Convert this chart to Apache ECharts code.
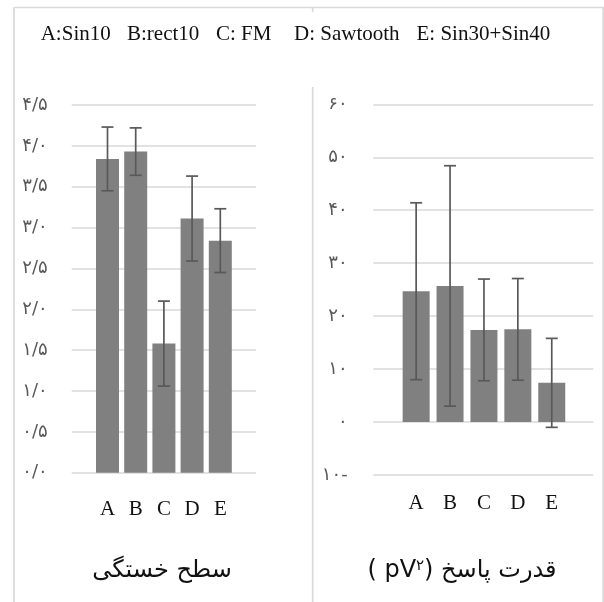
<!DOCTYPE html>
<html>
<head>
<meta charset="utf-8">
<script src="https://cdn.jsdelivr.net/npm/echarts@6/dist/echarts.min.js"></script>
<style>html,body{margin:0;padding:0;background:#fff}#c{width:604px;height:602px}</style>
</head>
<body>
<div id="c"></div>
<script>
// ---- data ----
const categories = ['A', 'B', 'C', 'D', 'E'];
const fatigueMean = [3.84, 3.93, 1.58, 3.11, 2.84];
const fatigueErr = [0.39, 0.29, 0.52, 0.52, 0.39];
const powerMean = [24.7, 25.7, 17.4, 17.5, 7.4];
const powerErr = [16.7, 22.7, 9.6, 9.6, 8.4];
const legendItems = ['A:Sin10', 'B:rect10', 'C: FM', 'D: Sawtooth', 'E: Sin30+Sin40'];
const titleLeft = 'سطح خستگی';
const titleRightUnit = ['( pV', '۲', ')'];
const titleRightText = 'قدرت پاسخ';

const faDigits = '۰۱۲۳۴۵۶۷۸۹';
function toFa(s) { return String(s).replace(/[0-9]/g, d => faDigits[+d]); }
function fmtLeft(v) { return toFa(v.toFixed(1)).replace('.', '/'); }
function fmtRight(v) { return v < 0 ? toFa(Math.abs(v)) + '-' : toFa(v); }

const GRID_COLOR = '#d9d9d9';
const BAR_COLOR = '#808080';
const ERR_COLOR = '#595959';

function errData(mean, err) { return mean.map((m, i) => [i, m - err[i], m + err[i]]); }
function renderErr(params, api) {
  const i = api.value(0);
  const lo = api.coord([i, api.value(1)]);
  const hi = api.coord([i, api.value(2)]);
  const x = lo[0], hw = 6;
  const st = { stroke: ERR_COLOR, lineWidth: 1.7 };
  return { type: 'group', children: [
    { type: 'line', shape: { x1: x, y1: hi[1], x2: x, y2: lo[1] }, style: st },
    { type: 'line', shape: { x1: x - hw, y1: hi[1], x2: x + hw, y2: hi[1] }, style: st },
    { type: 'line', shape: { x1: x - hw, y1: lo[1], x2: x + hw, y2: lo[1] }, style: st }
  ]};
}

const serif = 'Liberation Serif, Times New Roman, serif';
const fa = 'DejaVu Sans, sans-serif';

const legendX = [40.7, 127, 216, 294, 416.5];
const graphics = [];
legendItems.forEach((t, i) => graphics.push({ type: 'text', left: legendX[i], top: 23.5,
  style: { text: t, font: '21px ' + serif, fill: '#111' } }));
// borders
const ln = (x1, y1, x2, y2) => ({ type: 'line', silent: true, shape: { x1, y1, x2, y2 }, style: { stroke: GRID_COLOR, lineWidth: 1.7 } });
graphics.push(ln(14, 7.5, 14, 602), ln(14, 7.5, 604, 7.5), ln(603.2, 7.5, 603.2, 602),
  ln(312.7, 7.5, 312.7, 12), ln(312.7, 87, 312.7, 602));
// titles
graphics.push({ type: 'text', x: 162, y: 571, style: { text: titleLeft, font: '24px ' + fa, fill: '#111', align: 'center', verticalAlign: 'middle' } });
graphics.push({ type: 'text', x: 462, y: 571, style: {
  text: '{a|' + titleRightUnit[0] + '}{s|' + titleRightUnit[1] + '}{a|' + titleRightUnit[2] + '}{g| }{a|' + titleRightText + '}',
  align: 'center', verticalAlign: 'middle',
  rich: { a: { font: '24px ' + fa, fill: '#111' }, g: { font: '24px ' + fa, fill: '#111' },
          s: { font: '15px ' + fa, fill: '#111', verticalAlign: 'top', padding: [0, 0, 10, 0] } } } });

const chart = echarts.init(document.getElementById('c'), null, { renderer: 'canvas' });
chart.setOption({
  animation: false,
  backgroundColor: '#fff',
  grid: [
    { left: 71.7, top: 105, width: 184.3, height: 367.7 },
    { left: 93.4, top: 105, width: 141, height: 367.7 },
    { left: 373.3, top: 104.3, width: 220, height: 370.7 },
    { left: 399.2, top: 104.3, width: 169.5, height: 370.7 }
  ],
  xAxis: [
    { gridIndex: 0, type: 'category', data: categories, show: false },
    { gridIndex: 1, type: 'category', data: categories, axisLine: { show: false }, axisTick: { show: false },
      axisLabel: { margin: 26, fontSize: 21, fontFamily: serif, color: '#111' } },
    { gridIndex: 2, type: 'category', data: categories, show: false },
    { gridIndex: 3, type: 'category', data: categories, axisLine: { show: false }, axisTick: { show: false },
      axisLabel: { margin: 18.3, fontSize: 21, fontFamily: serif, color: '#111' } }
  ],
  yAxis: [
    { gridIndex: 0, type: 'value', min: 0, max: 4.5, interval: 0.5,
      axisLine: { show: false }, axisTick: { show: false },
      axisLabel: { margin: 24, fontSize: 18, fontFamily: fa, color: '#595959', formatter: fmtLeft },
      splitLine: { lineStyle: { color: GRID_COLOR, width: 1.7 } } },
    { gridIndex: 1, type: 'value', min: 0, max: 4.5, interval: 0.5, show: false, splitLine: { show: false } },
    { gridIndex: 2, type: 'value', min: -10, max: 60, interval: 10,
      axisLine: { show: false }, axisTick: { show: false },
      axisLabel: { margin: 25.6, fontSize: 18, fontFamily: fa, color: '#595959', formatter: fmtRight },
      splitLine: { lineStyle: { color: GRID_COLOR, width: 1.7 } } },
    { gridIndex: 3, type: 'value', min: -10, max: 60, interval: 10, show: false, splitLine: { show: false } }
  ],
  series: [
    { type: 'bar', xAxisIndex: 1, yAxisIndex: 1, data: fatigueMean, barWidth: 23, itemStyle: { color: BAR_COLOR } },
    { type: 'custom', xAxisIndex: 1, yAxisIndex: 1, data: errData(fatigueMean, fatigueErr), renderItem: renderErr, encode: { x: 0, y: [1, 2] }, z: 5 },
    { type: 'bar', xAxisIndex: 3, yAxisIndex: 3, data: powerMean, barWidth: 27, itemStyle: { color: BAR_COLOR } },
    { type: 'custom', xAxisIndex: 3, yAxisIndex: 3, data: errData(powerMean, powerErr), renderItem: renderErr, encode: { x: 0, y: [1, 2] }, z: 5 }
  ],
  graphic: graphics
});
</script>
</body>
</html>
